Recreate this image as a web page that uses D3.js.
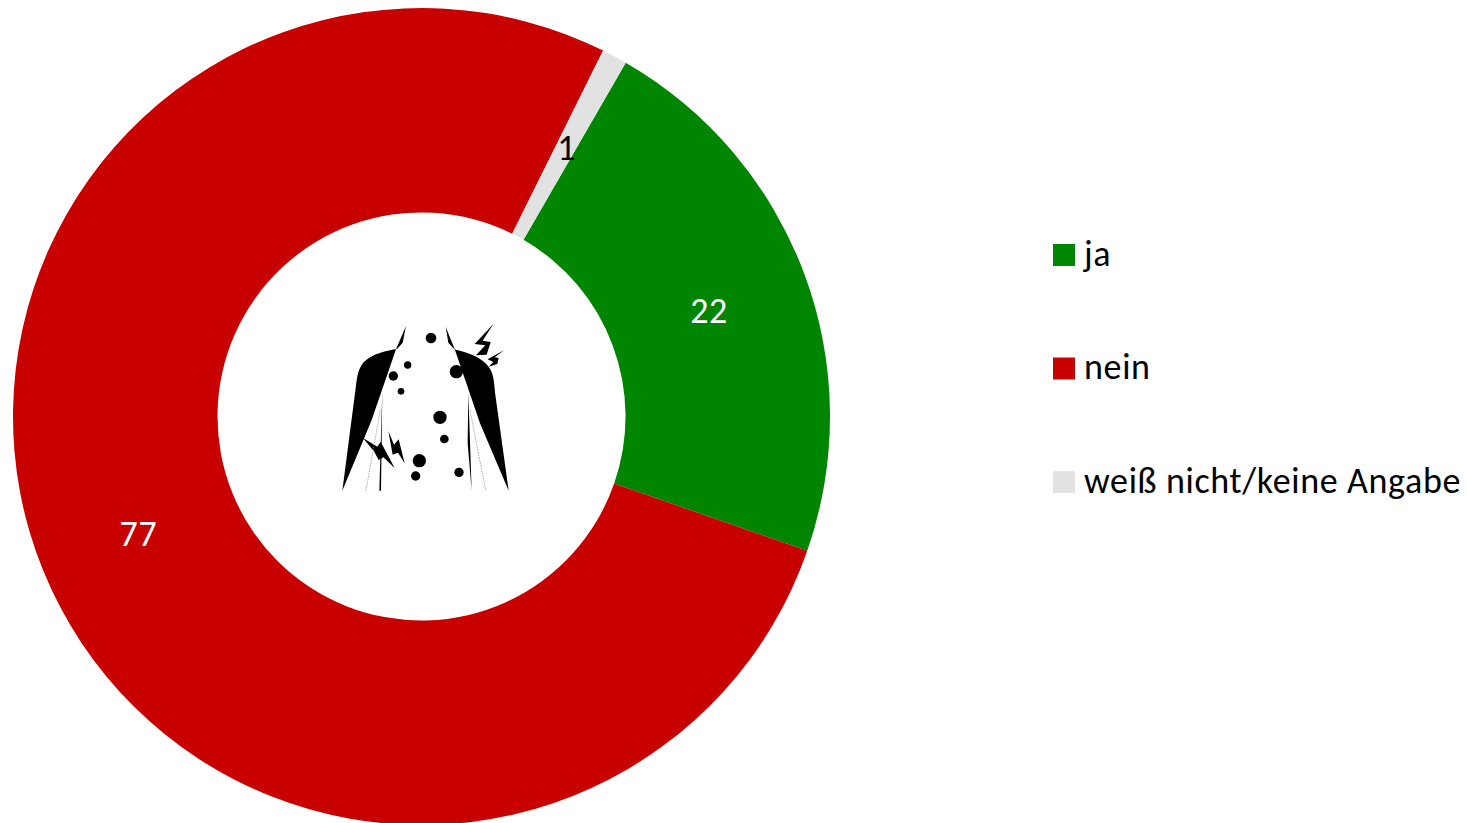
<!DOCTYPE html>
<html><head><meta charset="utf-8">
<script src="https://cdn.jsdelivr.net/npm/d3@7"></script>
<style>html,body{margin:0;padding:0;background:#fff;overflow:hidden}text{font-family:Carlito,Lato,"Open Sans",sans-serif;letter-spacing:.65px}</style>
</head><body><svg id="c" width="1467" height="823"></svg>
<script>
const categories = ["ja", "nein", "weiß nicht/keine Angabe"];
const values = [22, 77, 1];
const colors = ["#008500", "#C80000", "#E2E2E2"];
const labelColors = ["#ffffff", "#ffffff", "#000000"];

const cx = 421.5, cy = 416.5, R = 408.5, r = 204;
const svg = d3.select("#c");
const defs = svg.append("defs");
defs.append("filter").attr("id","soft").append("feGaussianBlur").attr("stdDeviation",0.45);

const pie = d3.pie().sort(null).startAngle(30*Math.PI/180).endAngle(390*Math.PI/180);
const arc = d3.arc().innerRadius(r).outerRadius(R);
const g = svg.append("g").attr("transform",`translate(${cx},${cy})`);
const arcs = pie(values);
g.selectAll("path").data(arcs).join("path")
  .attr("d",arc).attr("fill",(d,i)=>colors[i]);
g.selectAll("text").data(arcs).join("text")
  .attr("transform",d=>{const c=arc.centroid(d);return `translate(${c[0]+0.5},${c[1]+5})`;})
  .attr("text-anchor","middle").attr("dominant-baseline","middle")
  .attr("font-size",36).attr("fill",(d,i)=>labelColors[i])
  .text(d=>d.value);

// legend
const legendY = d3.scalePoint().domain(categories).range([255,482]);
const lg = svg.append("g").selectAll("g").data(categories).join("g")
  .attr("transform",d=>`translate(1053,${legendY(d)})`);
lg.append("rect").attr("x",0).attr("y",-11).attr("width",22).attr("height",22)
  .attr("fill",(d,i)=>colors[i]);
lg.append("text").attr("x",31).attr("y",10.5).attr("font-size",36).attr("fill","#000").text(d=>d);

// centre pictogram (decoration), in a 3x local grid
const icon = svg.append("g").attr("transform","translate(320,310) scale(0.33333)").attr("filter","url(#soft)");
const shapes = [
 "M258,48 L248,98 L232,116 C190,124 140,135 122,170 C110,192 110,215 105,250 L67,542 L155,330 L228,118 Z",
 "M377,50 L385,98 L403,118 C440,128 490,140 512,180 C524,205 522,225 527,262 L566,542 L480,340 L405,120 Z",
 "M187,240 L178,542 L183,542 Z",
 "M445,250 L443,400 L455,542 Z",
 // bolts
 "M520,42 L464,102 L496,106 L468,136 L500,134 L512,96 L488,92 Z",
 "M553,120 L503,148 L520,156 L506,170 L532,162 L536,144 L524,142 Z",
 "M128,383 L172,410 L182,395 L224,474 L190,442 L176,450 L162,424 Z",
 "M205,363 L222,404 L236,388 L254,460 L234,428 L218,434 Z"
];
icon.selectAll("path.s").data(shapes).join("path").attr("class","s").attr("d",d=>d).attr("fill","#000");
const thin = [[181,300,138,542],[450,300,497,542]];
icon.selectAll("line").data(thin).join("line")
  .attr("x1",d=>d[0]).attr("y1",d=>d[1]).attr("x2",d=>d[2]).attr("y2",d=>d[3])
  .attr("stroke","#888").attr("stroke-width",2).attr("stroke-dasharray","5 3");
const dots = [[333,84,16],[263,165,11],[220,198,14],[243,244,10],[409,185,20],[360,322,20],[373,387,13],[298,452,20],[287,498,14],[417,487,14]];
icon.selectAll("circle").data(dots).join("circle")
  .attr("cx",d=>d[0]).attr("cy",d=>d[1]).attr("r",d=>d[2]).attr("fill","#000");
</script></body></html>
